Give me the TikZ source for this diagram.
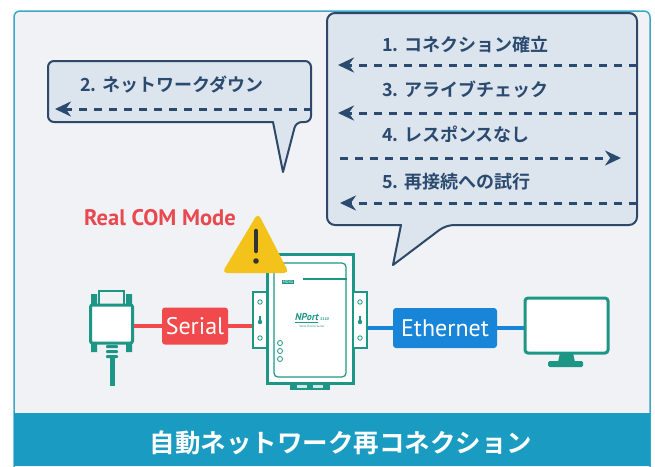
\documentclass[tikz,border=0pt]{standalone}
\usepackage{fontspec}
\setmainfont{PT Sans}
\newfontfamily\jpfont{Noto Sans CJK JP}[BoldFont={Noto Sans CJK JP Bold}]
\usetikzlibrary{arrows.meta,positioning}

\definecolor{panelbg}{HTML}{F1F2F5}
\definecolor{panelrim}{HTML}{3AA6C8}
\definecolor{band}{HTML}{1A9BC2}
\definecolor{bubblefill}{HTML}{DCE4EE}
\definecolor{bubblerim}{HTML}{2E4868}
\definecolor{msgblue}{HTML}{2B4A6F}
\definecolor{devteal}{HTML}{1E9686}
\definecolor{serialred}{HTML}{F04A4C}
\definecolor{ethblue}{HTML}{1985D9}
\definecolor{warnyellow}{HTML}{F3C21B}
\definecolor{modered}{HTML}{E8484F}

\tikzset{
  bubble/.style={draw=bubblerim, fill=bubblefill, line width=2pt, line join=round},
  msg/.style={font=\jpfont\bfseries\fontsize{18}{18}\selectfont, text=msgblue, anchor=west, inner sep=0pt},
  msgline/.style={draw=msgblue, line width=3pt, dash pattern=on 8pt off 7pt,
    -{Stealth[length=16pt,width=15pt]}},
  linkbox/.style={rounded corners=3pt, text=white, inner sep=0pt,
    font=\fontsize{24}{24}\selectfont},
  dev/.style={draw=devteal, line width=3pt},
  hole/.style={draw=devteal, line width=0.8pt, fill=white},
}

\begin{document}
\begin{tikzpicture}[x=1pt, y=-1pt]
\useasboundingbox (0,0) rectangle (655,466);

% panel and title band
\draw[panelrim, fill=panelbg, line width=1.5pt, rounded corners=6pt]
  (14,470) -- (14,11) -- (650,11) -- (650,470);
\fill[band] (14,413) rectangle (650,466);
\node[font=\jpfont\bfseries\fontsize{25.5}{25.5}\selectfont, text=white] (title) at (341,443)
  {自動ネットワーク再コネクション};

% left speech bubble
\draw[bubble] (150,61) [rounded corners=6pt] -- (311,61) -- (311,122) -- (296,122)
  [sharp corners] -- (283,172) -- (273,122) [rounded corners=6pt] -- (48,122) -- (48,61) -- cycle;
\node[msg] (down) at (80,85) {2. ネットワークダウン};
\coordinate (down-a) at (312,109);
\coordinate (down-b) at (55,109);
\draw[msgline] (down-a) -- (down-b);

% right speech bubble
\draw[bubble] (480,13) [rounded corners=8pt] -- (637,13) -- (637,225) -- (446,225)
  [sharp corners] -- (393,265) -- (401,225) [rounded corners=8pt] -- (327,225) -- (327,13) -- cycle;
\node[msg] (open) at (382,45) {1. コネクション確立};
\node[msg] (alive) at (382,90) {3. アライブチェック};
\node[msg] (noreply) at (382,134) {4. レスポンスなし};
\node[msg] (retry) at (382,182) {5. 再接続への試行};
\coordinate (open-a) at (637,65);    \coordinate (open-b) at (338,65);
\coordinate (alive-a) at (637,113);  \coordinate (alive-b) at (338,113);
\coordinate (noreply-a) at (340,158); \coordinate (noreply-b) at (621,158);
\coordinate (retry-a) at (637,203);  \coordinate (retry-b) at (340,203);
\draw[msgline] (open-a) -- (open-b);
\draw[msgline] (alive-a) -- (alive-b);
\draw[msgline] (noreply-a) -- (noreply-b);
\draw[msgline] (retry-a) -- (retry-b);

\node[font=\bfseries\fontsize{22.5}{22.5}\selectfont, text=modered] (mode) at (160,218) {Real COM Mode};

% DB9 connector
\node[dev, fill=white, rounded corners=2pt, minimum width=42pt, minimum height=38pt, inner sep=0pt] (db9) at (111.5,324) {};
\draw[dev, line width=2.5pt] (99,305) -- (99,291) -- (124,291) -- (124,305);
\fill[devteal] (91,294) rectangle (97,305) (126,294) rectangle (132,305);
\fill[devteal] (91,343) rectangle (97,352) (126,343) rectangle (132,352);
\foreach \y in {345,350,355}
  \fill[devteal, rounded corners=1pt] (106,\y) rectangle (118,\y+3);
\draw[devteal, line width=5pt] (112,358) -- (112,386);

% NPort device
\node[dev, fill=white, minimum width=86pt, minimum height=129pt, inner sep=0pt] (nport) at (310,318.5) {};
\draw[devteal, line width=1.2pt, rounded corners=4pt] (274,263) rectangle (346,377);
\node[fill=devteal, text=white, font=\fontsize{4}{4}\selectfont, inner sep=1pt] (moxa) at (288,282) {MOXA};
\draw[devteal, line width=2.5pt] (303,279) -- (347,279);
\node[text=devteal, font=\bfseries\itshape\fontsize{10}{10}\selectfont, inner sep=0pt] (brand) at (312,318)
  {\underline{NPort}\,{\fontsize{4}{4}\selectfont 5110}};
\node[text=devteal, font=\fontsize{3}{3}\selectfont, inner sep=0pt, below=2pt of brand] {Serial Device Server};
\foreach \y in {343,351,359}
  \draw[hole] (280,\y) circle (2.5pt);
\fill[devteal] (290,383) rectangle (330,390);
\foreach \x in {297,313}
  \fill[white!80!devteal] (\x,385) rectangle (\x+10,388);
\node[dev, fill=white, line width=2.5pt, minimum width=14pt, minimum height=56pt, inner sep=0pt] (lear) at (260,320) {};
\node[dev, fill=white, line width=2.5pt, minimum width=14pt, minimum height=56pt, inner sep=0pt] (rear) at (360,320) {};
\foreach \e in {lear,rear} {
  \draw[hole] (\e) ++(0,-18) circle (2.2pt);
  \draw[hole] (\e) ++(0,18) circle (2.2pt);
  \fill[devteal] (\e) ++(0,2) circle (2.2pt);
  \fill[devteal] (\e) ++(-1,2) rectangle ++(2,-6);
}

% monitor
\node[dev, fill=white, rounded corners=3pt, minimum width=83pt, minimum height=55pt, inner sep=0pt] (mon) at (566.5,325.5) {};
\fill[devteal] (560,353) -- (573,353) -- (575,362) -- (558,362) -- cycle;
\fill[devteal, rounded corners=1.5pt] (548,361) rectangle (583,367);

% links
\node[linkbox, fill=serialred, minimum width=66pt, minimum height=37pt] (serial) at (195,326) {Serial};
\node[linkbox, fill=ethblue, minimum width=104pt, minimum height=40pt] (eth) at (445,328) {Ethernet};
\draw[serialred, line width=4pt] (serial.west) -- (serial.west -| db9.east);
\draw[serialred, line width=4pt] (serial.east) -- (serial.east -| lear.west);
\draw[ethblue, line width=4pt] (eth.west) -- (eth.west -| rear.east);
\draw[ethblue, line width=4pt] (eth.east) -- (eth.east -| mon.west);

% warning sign
\fill[warnyellow, rounded corners=5pt] (258,213) -- (289,273) -- (222,273) -- cycle;
\draw[black!80, line width=4.5pt, line cap=round] (256,231) -- (256,251);
\fill[black!80] (256,261) circle (2.8pt);
\end{tikzpicture}
\end{document}
